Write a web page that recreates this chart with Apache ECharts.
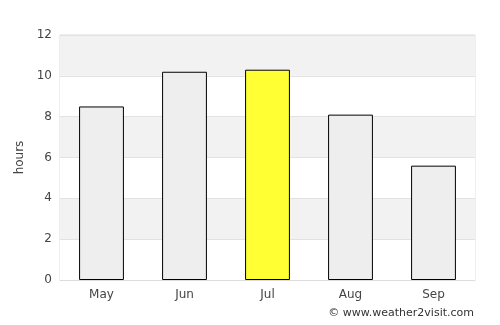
<!DOCTYPE html>
<html>
<head>
<meta charset="utf-8">
<script src="https://cdn.jsdelivr.net/npm/echarts@6/dist/echarts.min.js"></script>
<style>
  html, body { margin: 0; padding: 0; background: #fff; }
  #chart { width: 500px; height: 325px; }
</style>
</head>
<body>
<div id="chart"></div>
<script>
// sunshine hours per month
const months = ['May', 'Jun', 'Jul', 'Aug', 'Sep'];
const hours = [8.5, 10.2, 10.3, 8.1, 5.6];
const highlight = 'Jul';

let chart = echarts.init(document.getElementById('chart'), null, { renderer: 'canvas' });

let option = {
    animation: false,
    textStyle: { fontFamily: 'DejaVu Sans' },
    grid: { left: 60, right: 25, top: 35, bottom: 45, show: true, borderColor: '#dddddd', borderWidth: 1 },
    xAxis: {
        type: 'category',
        data: months,
        axisLine: { lineStyle: { color: '#dddddd' } },
        axisTick: { show: false },
        axisLabel: { color: '#444', fontSize: 12, margin: 9 }
    },
    yAxis: {
        type: 'value',
        min: 0, max: 12, interval: 2,
        name: 'hours',
        nameLocation: 'middle',
        nameGap: 34,
        nameTextStyle: { color: '#444', fontSize: 12 },
        axisLine: { show: false },
        axisTick: { show: false },
        axisLabel: { color: '#444', fontSize: 12, margin: 8 },
        splitLine: { lineStyle: { color: '#e2e2e2' } },
        splitArea: { show: true, areaStyle: { color: ['#ffffff', '#f2f2f2'] } }
    },
    series: [{
        type: 'bar',
        barWidth: '54%',
        data: hours.map((v, i) => ({
            value: v,
            itemStyle: { color: months[i] === highlight ? '#ffff33' : '#eeeeee' }
        })),
        itemStyle: { borderColor: '#000', borderWidth: 1 }
    }],
    graphic: [{
        type: 'text',
        right: 26, bottom: 6,
        style: { text: '© www.weather2visit.com', fill: '#333', font: '11px DejaVu Sans' }
    }]
};
chart.setOption(option);
</script>
</body>
</html>
